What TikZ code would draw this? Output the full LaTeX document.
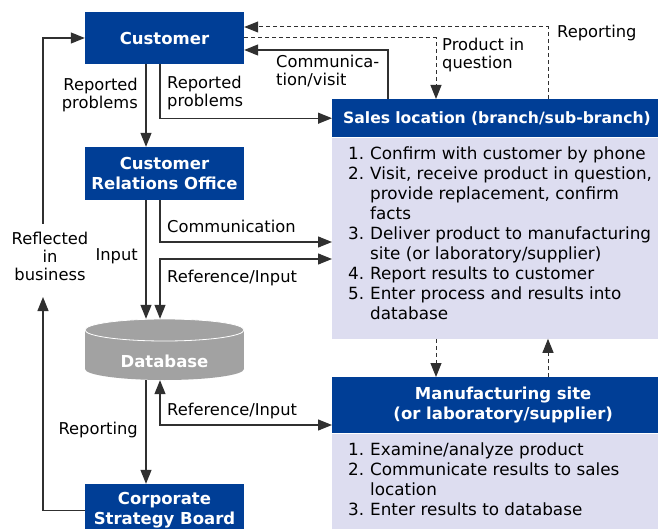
\documentclass[tikz,border=0pt]{standalone}
\usepackage{fontspec}
\setmainfont{DejaVu Sans}
\usetikzlibrary{positioning, arrows.meta, calc}
\definecolor{hdrblue}{HTML}{003E96}
\definecolor{bodylav}{HTML}{DDDDF0}
\definecolor{dbgray}{HTML}{A2A2A2}
\definecolor{linegray}{HTML}{303030}

\begin{document}
\begin{tikzpicture}[x=1pt, y=-1pt,
        hdr/.style={fill=hdrblue, text=white, font=\fontsize{16.5}{20}\selectfont\bfseries,
            align=center, inner sep=0pt, minimum width=159pt},
        body/.style={fill=bodylav, inner sep=0pt, minimum width=342pt},
        steps/.style={anchor=north west, inner sep=0pt, font=\fontsize{16.8}{20}\selectfont},
        lbl/.style={inner sep=0pt, font=\fontsize{16.3}{18}\selectfont},
        flow/.style={draw=linegray, line width=1.2pt, -{Triangle[length=14pt, width=11pt]}},
        flowboth/.style={flow, {Triangle[length=14pt, width=11pt]}-{Triangle[length=14pt, width=11pt]}},
        rpt/.style={flow, line width=1pt, dash pattern=on 4pt off 3pt}
    ]
        \useasboundingbox (0,0) rectangle (658,529);
        \clip (0,0) rectangle (658,529);

        % columns and rows the connectors run along
        \coordinate (xa) at (146,0);
        \coordinate (xb) at (160,0);
        \coordinate (xv) at (388,0);
        \coordinate (xq) at (436,0);
        \coordinate (xr) at (548,0);
        \coordinate (yc) at (0,242);
        \coordinate (yd) at (0,259);
        \coordinate (ye) at (0,425);

        % left column
        \node[hdr, minimum height=52pt] (cust) at (164.5,38) {Customer};
        \node[hdr, minimum height=53pt] (cro) at (164.5,173.5) {Customer\\Relations Office};
        \fill[dbgray] (85,330) rectangle (244,369);
        \fill[dbgray] (164.5,369) ellipse [x radius=79.5, y radius=11];
        \filldraw[fill=dbgray, draw=white, line width=0.8pt] (164.5,330) ellipse [x radius=79.5, y radius=11];
        \node[minimum width=159pt, minimum height=61pt, inner sep=0pt] (db) at (164.5,349.5) {};
        \node[text=white, font=\fontsize{16.5}{20}\selectfont\bfseries] at (164.5,361) {Database};
        \node[hdr, minimum height=53pt] (csb) at (164.5,510.5) {Corporate\\Strategy Board};

        % right column
        \node[hdr, anchor=north west, minimum height=38pt, inner xsep=11pt,
            text width=320pt, align=left, font=\fontsize{15.6}{20}\selectfont\bfseries]
            (sales) at (332,99) {Sales location (branch/sub-branch)};
        \node[body, anchor=north west, minimum height=201pt] (salesbody) at (sales.south west) {};
        \node[steps] (salessteps) at (348,145) {\begin{tabular}{@{}r@{\hspace{6pt}}l@{}}
            1. & Confirm with customer by phone\\
            2. & Visit, receive product in question,\\
               & provide replacement, confirm\\
               & facts\\
            3. & Deliver product to manufacturing\\
               & site (or laboratory/supplier)\\
            4. & Report results to customer\\
            5. & Enter process and results into\\
               & database
        \end{tabular}};

        \node[hdr, anchor=north west, minimum width=342pt, minimum height=56pt] (mfg) at (332,377)
            {Manufacturing site\\(or laboratory/supplier)};
        \node[body, anchor=north west, minimum height=110pt] (mfgbody) at (mfg.south west) {};
        \node[steps] (mfgsteps) at (348,441) {\begin{tabular}{@{}r@{\hspace{6pt}}l@{}}
            1. & Examine/analyze product\\
            2. & Communicate results to sales\\
               & location\\
            3. & Enter results to database
        \end{tabular}};

        % connectors
        \draw[rpt] (sales.north -| xr) |- ([yshift=11pt]cust.east);
        \draw[rpt] (cust.east) -| (sales.north -| xq);
        \draw[flow] (sales.north -| xv) |- ([yshift=-12pt]cust.east);
        \draw[flow] (cust.south -| xa) -- (cro.north -| xa);
        \draw[flow] (cust.south -| xb) |- (sales.west);
        \draw[flow] (cro.south -| xb) |- (salesbody.west |- yc);
        \draw[flowboth] (db.north -| xb) |- (salesbody.west |- yd);
        \draw[flow] (cro.south -| xa) -- (db.north -| xa);
        \draw[flow] (db.south -| xa) -- (csb.north -| xa);
        \draw[flowboth] (db.south -| xb) |- (mfg.west |- ye);
        \draw[rpt] (salesbody.south -| xq) -- (mfg.north -| xq);
        \draw[rpt] (mfg.north -| xr) -- (salesbody.south -| xr);

        \coordinate (loopa) at (43,297);
        \coordinate (loopb) at (43,224);
        \draw[flow] (csb.west) -| (loopa);
        \draw[flow] (loopb) |- (cust.west);

        % labels
        \node[lbl, anchor=west, align=left] (lrpt) at (557,33) {Reporting};
        \node[lbl, anchor=west, align=left] (lpq) at (442,55) {Product in\\question};
        \node[lbl, anchor=west, align=left] (lcv) at (276,71.5) {Communica-\\tion/visit};
        \node[lbl, anchor=east, align=right] (lrp1) at (138,95.5) {Reported\\problems};
        \node[lbl, anchor=west, align=left] (lrp2) at (167,93) {Reported\\problems};
        \node[lbl, anchor=west] (lcom) at (167,226) {Communication};
        \node[lbl, anchor=west] (lref1) at (167,278) {Reference/Input};
        \node[lbl, anchor=east] (linp) at (138,256) {Input};
        \node[lbl, align=center] (lrefl) at (50,256) {Reflected\\in\\business};
        \node[lbl, anchor=west] (lref2) at (167,411) {Reference/Input};
        \node[lbl, anchor=east] (lrep) at (138,430) {Reporting};

    \end{tikzpicture}
\end{document}
